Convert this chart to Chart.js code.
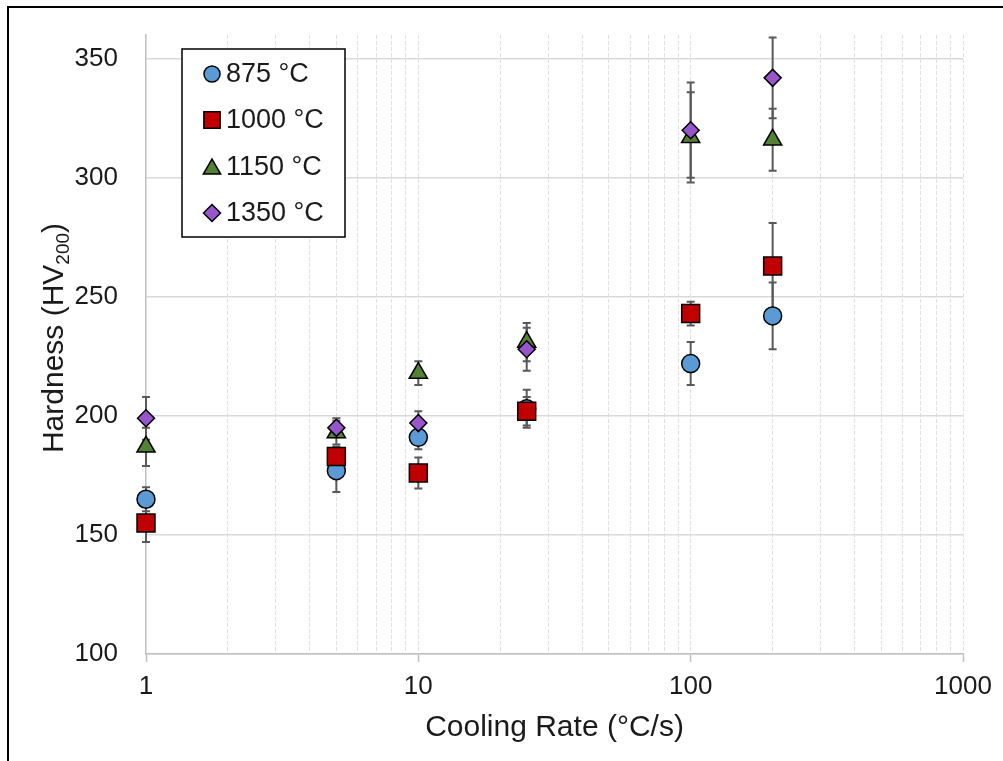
<!DOCTYPE html>
<html>
<head>
<meta charset="utf-8">
<script src="https://cdn.jsdelivr.net/npm/chart.js@4.4.1/dist/chart.umd.min.js"></script>
<style>
  body { margin: 0; background: #fff; }
  #wrap { position: relative; width: 1003px; height: 761px; }
</style>
</head>
<body>
<div id="wrap"><canvas id="myChart" width="1003" height="761"></canvas></div>
<script>
// cooling rates (°C/s)
const rates = [1, 5, 10, 25, 100, 200]

// hardness HV200 and error (+/-) per austenitising temperature
const hv875 = [165, 177, 191, 203, 222, 242]
const err875 = [5, 9, 5, 8, 9, 14]
const hv1000 = [155, 183, 176, 202, 243, 263]
const err1000 = [8, 4, 6.5, 6, 5, 18]
const hv1150 = [187, 193, 218, 231, 317, 316]
const err1150 = [8, 5, 5, 8, 19, 13]
const hv1350 = [199, 195, 197, 228, 320, 342]
const err1350 = [9, 4, 5, 9, 20, 17]

const seriesNames = ['875 °C', '1000 °C', '1150 °C', '1350 °C']
const xTickLabels = [1, 10, 100, 1000]
const yTickLabels = [100, 150, 200, 250, 300, 350]

const FONT = "'Liberation Sans', Arial, sans-serif"
const textColor = '#1a1a1a'

const toPoints = (vals) => rates.map((r, i) => ({ x: r, y: vals[i] }))

const datasets = [
  { label: seriesNames[0], data: toPoints(hv875), err: err875, pointStyle: 'circle', pointRadius: 9, backgroundColor: '#5b9bd5', order: 4 },
  { label: seriesNames[1], data: toPoints(hv1000), err: err1000, pointStyle: 'rect', pointRadius: 12.7, backgroundColor: '#c00000', order: 3 },
  { label: seriesNames[2], data: toPoints(hv1150), err: err1150, pointStyle: 'triangle', pointRadius: 10.5, backgroundColor: '#548235', order: 2 },
  { label: seriesNames[3], data: toPoints(hv1350), err: err1350, pointStyle: 'rectRot', pointRadius: 8.5, backgroundColor: '#9955cc', order: 1 }
]
datasets.forEach(d => {
  d.borderColor = '#000'
  d.borderWidth = 1.5
  d.showLine = false
  d.clip = false
  d.pointHoverRadius = d.pointRadius
  d.pointBackgroundColor = d.backgroundColor
})

// error bars drawn under the markers
const errorBars = {
  id: 'errorBars',
  beforeDatasetsDraw(chart) {
    const ctx = chart.ctx
    const xs = chart.scales.x, ys = chart.scales.y
    ctx.save()
    ctx.strokeStyle = '#595959'
    ctx.lineWidth = 2
    chart.data.datasets.forEach(ds => {
      ds.data.forEach((p, i) => {
        const e = ds.err[i]
        const x = xs.getPixelForValue(p.x)
        const yT = ys.getPixelForValue(p.y + e)
        const yB = ys.getPixelForValue(p.y - e)
        ctx.beginPath()
        ctx.moveTo(x, yT); ctx.lineTo(x, yB)
        ctx.moveTo(x - 4, yT); ctx.lineTo(x + 4, yT)
        ctx.moveTo(x - 4, yB); ctx.lineTo(x + 4, yB)
        ctx.stroke()
      })
    })
    ctx.restore()
  }
}

// frame, axis titles and legend box
const decorations = {
  id: 'decorations',
  afterDraw(chart) {
    const ctx = chart.ctx
    const area = chart.chartArea
    ctx.save()

    // outer frame (cut on the right and bottom like the picture)
    ctx.strokeStyle = '#000'
    ctx.lineWidth = 2
    ctx.strokeRect(8, 7, 2000, 2000)

    // x title
    ctx.fillStyle = textColor
    ctx.font = '30px ' + FONT
    ctx.textAlign = 'center'
    ctx.textBaseline = 'alphabetic'
    ctx.fillText('Cooling Rate (°C/s)', (area.left + area.right) / 2, 736)

    // y title with subscript
    ctx.save()
    ctx.translate(63, 338)
    ctx.rotate(-Math.PI / 2)
    ctx.textAlign = 'left'
    const main = 'Hardness (HV'
    ctx.font = '30px ' + FONT
    const w1 = ctx.measureText(main).width
    ctx.font = '19px ' + FONT
    const w2 = ctx.measureText('200').width
    ctx.font = '30px ' + FONT
    const w3 = ctx.measureText(')').width
    let x0 = -(w1 + w2 + w3) / 2
    ctx.fillText(main, x0, 0)
    ctx.font = '19px ' + FONT
    ctx.fillText('200', x0 + w1, 6)
    ctx.font = '30px ' + FONT
    ctx.fillText(')', x0 + w1 + w2, 0)
    ctx.restore()

    // legend
    ctx.fillStyle = '#fff'
    ctx.fillRect(182, 49, 163, 188)
    ctx.strokeStyle = '#000'
    ctx.lineWidth = 1.5
    ctx.strokeRect(182, 49, 163, 188)
    const rowsY = [74, 120, 167, 213]
    const legendSize = { circle: 8, rect: 11.5, triangle: 10, rectRot: 8.5 }
    chart.data.datasets.forEach((ds, i) => {
      const y = rowsY[i]
      ctx.fillStyle = ds.backgroundColor
      ctx.strokeStyle = '#000'
      ctx.lineWidth = 1.5
      Chart.helpers.drawPoint(ctx, {
        pointStyle: ds.pointStyle,
        radius: legendSize[ds.pointStyle],
        rotation: 0,
        borderWidth: 1.5
      }, 212, ds.pointStyle === 'triangle' ? y + 2 : y)
      ctx.fillStyle = textColor
      ctx.font = '27px ' + FONT
      ctx.textAlign = 'left'
      ctx.textBaseline = 'middle'
      ctx.fillText(ds.label, 226, y + 1)
    })
    ctx.restore()
  }
}

const isMajor = v => xTickLabels.includes(v)

const config = {
  type: 'scatter',
  data: { datasets: datasets },
  options: {
    responsive: false,
    animation: false,
    events: [],
    layout: { padding: { top: 35, right: 40, left: 0, bottom: 0 } },
    plugins: {
      legend: { display: false },
      tooltip: { enabled: false }
    },
    scales: {
      x: {
        type: 'logarithmic',
        min: 1,
        max: 1000,
        afterBuildTicks: scale => {
          const t = []
          for (let p = 1; p < 1000; p *= 10) {
            for (let k = 1; k < 10; k++) t.push({ value: k * p, major: k === 1 })
          }
          t.push({ value: 1000, major: true })
          scale.ticks = t
        },
        afterFit: scale => { scale.height = 107 },
        ticks: {
          autoSkip: false,
          maxRotation: 0,
          padding: 9,
          color: textColor,
          font: { family: FONT, size: 26 },
          callback: v => isMajor(v) ? String(v) : ''
        },
        grid: {
          color: c => c.tick && c.tick.value === 1 ? 'rgba(0,0,0,0)' : '#e0e0e0',
          lineWidth: 1,
          tickLength: 8,
          tickColor: c => c.tick && isMajor(c.tick.value) ? '#bfbfbf' : 'rgba(0,0,0,0)',
          tickWidth: 1.5
        },
        border: { display: true, color: '#bfbfbf', width: 1.5, dash: [4, 2] }
      },
      y: {
        min: 100,
        max: 360,
        afterBuildTicks: scale => {
          scale.ticks = yTickLabels.map(v => ({ value: v }))
        },
        afterFit: scale => {
          scale.width = 146
          scale.paddingTop = 10
          scale.paddingBottom = 10
        },
        ticks: {
          padding: 28,
          color: textColor,
          font: { family: FONT, size: 26 }
        },
        grid: {
          color: '#d9d9d9',
          lineWidth: 1.5,
          drawTicks: false
        },
        border: { display: true, color: '#bfbfbf', width: 1.5 }
      }
    }
  },
  plugins: [errorBars, decorations]
}

const myChart = new Chart(document.getElementById('myChart'), config)
</script>
</body>
</html>
